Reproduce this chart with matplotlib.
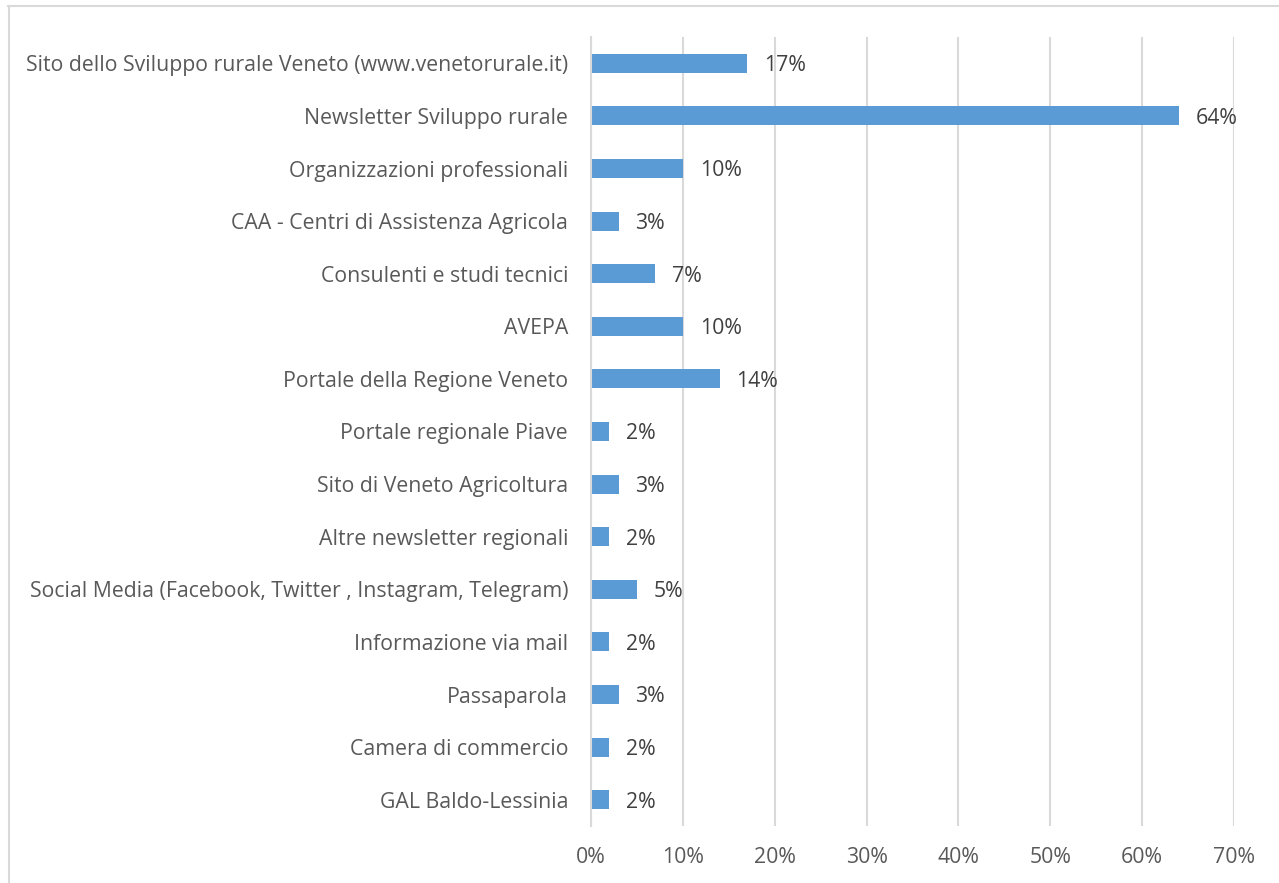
import matplotlib
matplotlib.use("Agg")
import matplotlib.pyplot as plt
from matplotlib.lines import Line2D
from matplotlib.ticker import FuncFormatter

categories = [
    "Sito dello Sviluppo rurale Veneto (www.venetorurale.it)",
    "Newsletter Sviluppo rurale",
    "Organizzazioni professionali",
    "CAA - Centri di Assistenza Agricola",
    "Consulenti e studi tecnici",
    "AVEPA",
    "Portale della Regione Veneto",
    "Portale regionale Piave",
    "Sito di Veneto Agricoltura",
    "Altre newsletter regionali",
    "Social Media (Facebook, Twitter , Instagram, Telegram)",
    "Informazione via mail",
    "Passaparola",
    "Camera di commercio",
    "GAL Baldo-Lessinia",
]
values = [0.17, 0.64, 0.10, 0.03, 0.07, 0.10, 0.14, 0.02, 0.03, 0.02, 0.05, 0.02, 0.03, 0.02, 0.02]
xticks = [0.0, 0.1, 0.2, 0.3, 0.4, 0.5, 0.6, 0.7]

plt.rcParams['font.family'] = ['Open Sans', 'DejaVu Sans']
FS = 15.3

W, H = 1279, 883
fig = plt.figure(figsize=(W / 100, H / 100), dpi=100)
fig.patch.set_facecolor("white")

ax = fig.add_axes([591 / W, 1 - 826 / H, (1234 - 591) / W, (826 - 37) / H])

y = list(range(len(categories)))
ax.barh(y, values, height=0.36, color="#5B9BD5", zorder=3)
ax.set_ylim(len(categories) - 0.5, -0.5)
ax.set_xlim(0, 0.7)
ax.set_xticks(xticks)
ax.xaxis.set_major_formatter(FuncFormatter(lambda v, p: f"{v*100:.0f}%"))
ax.set_yticks(y)
ax.set_yticklabels(categories)

ax.tick_params(axis="both", length=0, labelsize=FS, labelcolor="#595959")
ax.tick_params(axis="y", pad=16.5)
ax.tick_params(axis="x", pad=15)

ax.grid(axis="x", color="#D9D9D9", linewidth=1.5, zorder=0)
for s in ["top", "right", "bottom"]:
    ax.spines[s].set_visible(False)
ax.spines["left"].set_color("#D9D9D9")
ax.spines["left"].set_linewidth(1.5)
ax.spines["left"].set_zorder(4)

for yi, v in zip(y, values):
    ax.annotate(f"{v*100:.0f}%", xy=(v, yi), xytext=(17, 0), textcoords="offset pixels",
                ha="left", va="center_baseline", fontsize=FS, color="#404040", zorder=5)

# chart border (top and left visible)
fig.add_artist(Line2D([8 / W, 1], [1 - 6 / H, 1 - 6 / H], transform=fig.transFigure,
                      color="#D9D9D9", linewidth=1.5))
fig.add_artist(Line2D([9 / W, 9 / W], [0, 1 - 6 / H], transform=fig.transFigure,
                      color="#D9D9D9", linewidth=1.5))

fig.savefig("out.png", dpi=100, facecolor="white")
